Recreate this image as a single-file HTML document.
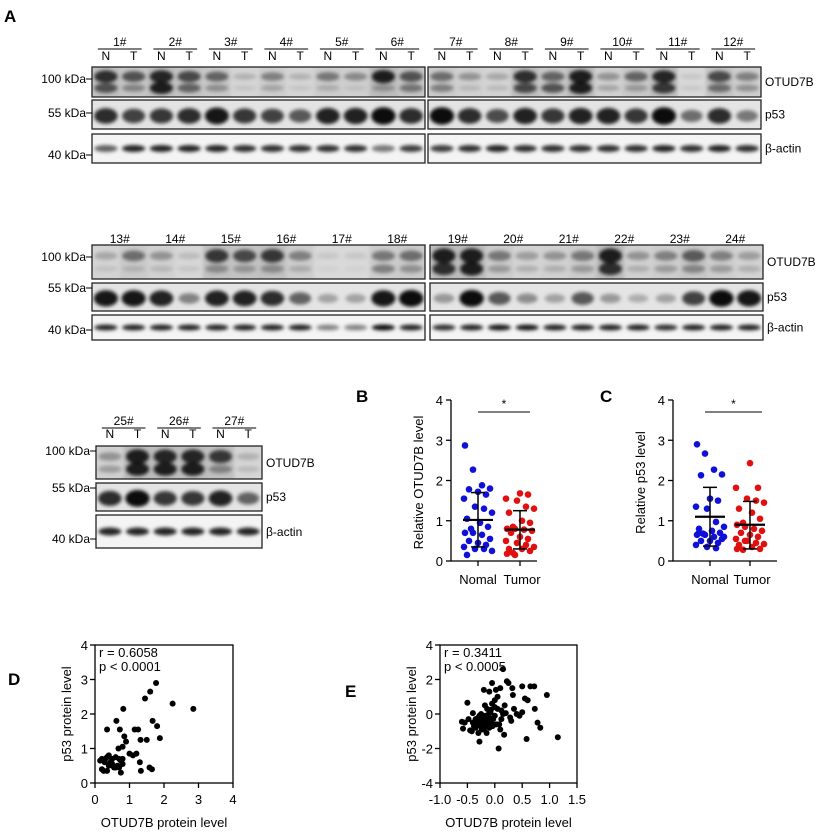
<!DOCTYPE html>
<html><head><meta charset="utf-8"><style>
body{margin:0;background:#fff;}
svg{display:block;font-family:"Liberation Sans",Arial,sans-serif;}
</style></head><body>
<svg id="fig" width="824" height="833" viewBox="0 0 824 833">
<defs>
<filter id="blur" x="-50%" y="-80%" width="200%" height="260%"><feGaussianBlur stdDeviation="1.8"/></filter>
</defs>
<g id="blots"></g>
<g id="scatB"></g>
<g id="scatC"></g>
<g id="corrD"></g>
<g id="corrE"></g>
</svg>
<script>
// ---------- data ----------
const otudUpperR1 = [0.9,0.7,0.95,0.75,0.6,0.2,0.45,0.2,0.5,0.4,1,0.7, 0.55,0.35,0.25,0.9,0.6,1,0.35,0.6,0.95,0.1,0.75,0.45];
const otudLowerR1 = [0.7,0.4,1,0.6,0.35,0.1,0.25,0.1,0.2,0.1,0.3,0.5, 0.45,0.15,0.15,0.75,0.7,1,0.25,0.3,0.85,0.1,0.55,0.35];
const p53R1 = [0.85,0.75,0.8,0.85,0.95,0.8,0.75,0.65,0.9,0.9,1,0.85, 1,0.85,0.7,0.9,0.8,0.9,0.9,0.8,1,0.55,0.85,0.5];
const actinR1 = [0.6,0.85,0.85,0.85,0.85,0.8,0.8,0.8,0.8,0.8,0.5,0.75, 0.75,0.8,0.85,0.8,0.8,0.8,0.8,0.8,0.85,0.8,0.85,0.8];
const otudUpperR2 = [0.25,0.55,0.35,0.15,0.85,0.75,0.85,0.45,0.1,0.1,0.5,0.55, 1,1,0.5,0.3,0.35,0.5,1,0.35,0.45,0.65,0.45,0.3];
const otudLowerR2 = [0.1,0.15,0.15,0.1,0.35,0.3,0.35,0.2,0.05,0.05,0.45,0.35, 0.9,1,0.3,0.2,0.2,0.3,0.9,0.2,0.3,0.4,0.3,0.2];
const p53R2 = [0.95,0.95,0.9,0.45,0.9,0.9,0.85,0.6,0.3,0.3,0.95,1, 0.35,1,0.65,0.4,0.3,0.65,0.35,0.25,0.3,0.75,1,0.95];
const actinR2 = [0.85,0.85,0.85,0.85,0.85,0.85,0.85,0.85,0.45,0.45,0.95,0.85, 0.8,0.85,0.9,0.9,0.85,0.85,0.85,0.85,0.8,0.85,0.85,0.85];
const otudUpperR3 = [0.35,1,0.95,0.95,0.85,0.2];
const otudLowerR3 = [0.3,1,1,1,0.4,0.15];
const p53R3 = [0.85,1,0.8,0.8,0.9,0.6];
const actinR3 = [0.85,0.85,0.85,0.85,0.85,0.85];

const bNormal = [2.87,2.27,1.88,1.8,1.78,1.72,1.65,1.55,1.35,1.3,1.2,1.05,0.95,0.85,0.8,0.7,0.7,0.65,0.55,0.5,0.45,0.4,0.35,0.3,0.3,0.25,0.15];
const bTumor = [1.68,1.65,1.55,1.5,1.35,1.3,1.2,1.0,0.95,0.85,0.8,0.8,0.78,0.75,0.7,0.6,0.55,0.5,0.45,0.4,0.35,0.3,0.3,0.25,0.2,0.18,0.15];
const bStats = {nMean:1.02,nLo:0.35,nHi:1.7,tMean:0.78,tLo:0.3,tHi:1.25};
const cNormal = [2.9,2.67,2.27,2.15,2.13,1.55,1.5,1.35,1.3,0.97,0.85,0.8,0.75,0.7,0.68,0.65,0.65,0.6,0.55,0.5,0.5,0.45,0.4,0.35,0.32,0.6,0.7];
const cTumor = [2.43,1.82,1.82,1.55,1.5,1.45,1.3,1.2,1.05,0.95,0.9,0.85,0.8,0.75,0.7,0.65,0.6,0.55,0.5,0.45,0.42,0.4,0.35,0.3,0.28,0.3,0.5];
const cStats = {nMean:1.1,nLo:0.37,nHi:1.83,tMean:0.9,tLo:0.3,tHi:1.48};

const dX = [0.15,0.2,0.25,0.3,0.35,0.35,0.4,0.4,0.45,0.5,0.55,0.6,0.6,0.65,0.7,0.7,0.75,0.75,0.8,0.8,0.35,0.62,0.72,0.68,0.8,0.82,0.85,0.9,1.0,1.1,1.2,1.15,1.25,1.3,1.32,1.33,1.45,1.5,1.58,1.6,1.65,1.67,1.77,1.8,1.88,2.25,2.85,0.2,0.28,0.5];
const dY = [0.65,0.4,0.35,0.7,0.75,0.35,0.8,0.5,0.6,0.7,0.45,0.75,0.45,0.5,0.7,0.45,0.3,0.65,0.55,0.7,1.55,1.8,1.55,1.0,1.05,2.15,1.35,1.2,0.85,0.8,0.85,1.55,1.55,0.6,1.25,0.35,2.45,1.25,0.45,2.65,0.4,1.8,2.9,1.65,1.3,2.3,2.15,0.7,0.6,0.55];
const eX = [-0.6,-0.58,-0.5,-0.45,-0.4,-0.4,-0.35,-0.35,-0.32,-0.3,-0.3,-0.28,-0.27,-0.25,-0.25,-0.22,-0.2,-0.2,-0.2,-0.18,-0.17,-0.15,-0.15,-0.14,-0.12,-0.1,-0.1,-0.1,-0.08,-0.06,-0.05,-0.05,-0.03,0.0,0.0,0.02,0.03,0.05,0.07,0.08,0.1,0.12,0.15,0.15,0.17,0.18,0.22,0.25,0.28,0.3,0.32,0.33,0.35,0.4,0.45,0.5,0.5,0.55,0.58,0.6,0.65,0.72,0.73,0.78,0.83,0.95,1.15,-0.55,-0.48,-0.38,-0.33,-0.3,-0.26,-0.24,-0.2,-0.18,-0.16,-0.13,-0.11,-0.08,-0.07,-0.04,0.0,0.05,0.1,0.2,-0.42,-0.28,0.12];
const eY = [-0.45,-0.85,0.65,-0.95,-0.5,0.05,-0.3,-0.8,-0.6,-1.1,-0.2,-1.6,-0.4,-0.7,0.0,-0.5,-0.9,-0.3,1.4,0.5,-0.1,-0.6,-1.1,0.3,-0.4,-0.2,1.3,-0.8,0.1,-0.5,1.8,0.6,-0.3,0.8,-0.1,1.4,-0.6,0.3,-2.0,-0.6,1.5,0.2,0.0,2.6,-1.2,0.5,1.9,1.8,-0.2,-0.4,1.5,1.1,0.3,0.0,-0.1,1.6,0.1,0.9,-1.45,0.8,1.6,1.6,0.3,-0.5,-0.8,1.1,-1.35,-0.5,-0.3,-0.7,-0.45,-0.55,-0.25,-0.9,-0.6,-0.35,-0.15,-0.7,0.0,-0.45,0.25,-0.7,0.4,1.0,-0.9,0.05,-1.0,-0.1,-0.3];

// ---------- helpers ----------
const NS = "http://www.w3.org/2000/svg";
function mk(parent, tag, attrs, text){
  const e = document.createElementNS(NS, tag);
  for (const k in attrs) e.setAttribute(k, attrs[k]);
  if (text !== undefined) e.textContent = text;
  parent.appendChild(e);
  return e;
}
function txt(parent, x, y, s, size, anchor, name, extra){
  const t = mk(parent, "text", Object.assign({x:x, y:y, "font-size":size, "text-anchor":anchor||"start", fill:"#000"}, extra||{}), s);
  
  
  return t;
}

// ---------- blots ----------
const blots = document.getElementById("blots");
txt(blots, 4, 22, "A", 17, "start", "panel-label-a", {"font-weight":"bold"});
let clipId = 0;
function strip(x0, x1, y0, y1, lanes, upper, lower, kind, name){
  const n = upper.length, w = (x1 - x0) / n;
  const g = mk(blots, "g", {});
  
  
  const id = "c" + (clipId++);
  const cp = mk(g, "clipPath", {id:id});
  mk(cp, "rect", {x:x0, y:y0, width:x1-x0, height:y1-y0});
  mk(g, "rect", {x:x0, y:y0, width:x1-x0, height:y1-y0, fill: kind==="actin" ? "#f4f4f4" : (kind==="p53" ? "#e4e4e4" : "#dcdcdc")});
  const inner = mk(g, "g", {"clip-path":"url(#"+id+")", filter:"url(#blur)"});
  const h = y1 - y0;
  for (let i = 0; i < n; i++){
    const cx = x0 + w*(i+0.5);
    if (kind === "otud"){
      const bg = 0.15*upper[i];
      mk(inner, "rect", {x:cx-w/2, y:y0-3, width:w, height:h+6, fill:"#000", opacity:bg});
      mk(inner, "ellipse", {cx:cx, cy:y0+h*0.32, rx:w*0.42, ry:h*(0.08+0.14*upper[i]), fill:"#000", opacity:0.85*upper[i]});
      mk(inner, "ellipse", {cx:cx, cy:y0+h*0.7, rx:w*0.42, ry:h*(0.07+0.13*lower[i]), fill:"#000", opacity:0.85*lower[i]});
    } else if (kind === "p53"){
      mk(inner, "ellipse", {cx:cx, cy:y0+h*0.55, rx:w*(0.34+0.1*upper[i]), ry:h*(0.1+0.2*upper[i]), fill:"#000", opacity:0.95*upper[i]});
    } else {
      mk(inner, "ellipse", {cx:cx, cy:y0+h*0.5, rx:w*0.42, ry:h*0.12, fill:"#000", opacity:upper[i]});
    }
  }
  mk(g, "rect", {x:x0, y:y0, width:x1-x0, height:y1-y0, fill:"none", stroke:"#222", "stroke-width":1.3});
}
function headers(x0, x1, nGroups, startNum, yGroup, yNT){
  const w = (x1 - x0) / (nGroups*2);
  for (let k = 0; k < nGroups; k++){
    const cN = x0 + w*(2*k+0.5), cT = x0 + w*(2*k+1.5), c = (cN + cT)/2;
    txt(blots, c, yGroup, (startNum+k) + "#", 12, "middle", "sample-label-" + (startNum+k));
    const l = mk(blots, "line", {x1:cN-8, x2:cT+8, y1:yGroup+3, y2:yGroup+3, stroke:"#000", "stroke-width":1});
    
    
    txt(blots, cN, yNT, "N", 12, "middle", "normal-lane-label");
    txt(blots, cT, yNT, "T", 12, "middle", "tumor-lane-label");
  }
}
function marker(y, s, xEnd){
  txt(blots, xEnd-6, y+4, s, 12, "end", "marker-" + s.replace(" ","-").toLowerCase());
  const l = mk(blots, "line", {x1:xEnd-6, x2:xEnd, y1:y, y2:y, stroke:"#000", "stroke-width":1});
  
  
}
function rowSet(panels, ys, uArr, lArr, pArr, aArr, labelX){
  panels.forEach((p, pi) => {
    const sl = a => a.slice(pi*12, pi*12+12);
    strip(p[0], p[1], ys[0][0], ys[0][1], 12, sl(uArr), sl(lArr), "otud", "otud7b-blot");
    strip(p[0], p[1], ys[1][0], ys[1][1], 12, sl(pArr), null, "p53", "p53-blot");
    strip(p[0], p[1], ys[2][0], ys[2][1], 12, sl(aArr), null, "actin", "actin-blot");
  });
  txt(blots, labelX, (ys[0][0]+ys[0][1])/2+4, "OTUD7B", 12, "start", "otud7b-label");
  txt(blots, labelX, (ys[1][0]+ys[1][1])/2+4, "p53", 12, "start", "p53-label");
  txt(blots, labelX, (ys[2][0]+ys[2][1])/2+4, "β-actin", 12, "start", "actin-label");
}
// Row 1
headers(92, 425, 6, 1, 46, 60); headers(428, 761, 6, 7, 46, 60);
rowSet([[92,425],[428,761]], [[67,97],[100,129],[134,163]], otudUpperR1, otudLowerR1, p53R1, actinR1, 765);
marker(79, "100 kDa", 92); marker(113, "55 kDa", 92); marker(155, "40 kDa", 92);
// Row 2
headers(92, 425, 6, 13, 243, 256); headers(430, 763, 6, 19, 243, 256);
rowSet([[92,425],[430,763]], [[245,279],[283,311],[315,340]], otudUpperR2, otudLowerR2, p53R2, actinR2, 767);
marker(257, "100 kDa", 92); marker(288, "55 kDa", 92); marker(330, "40 kDa", 92);
// Row 3
headers(96, 262, 3, 25, 425, 438);
(function(){
  const x0=96, x1=262, ys=[[446,479],[483,511],[515,548]];
  strip(x0,x1,ys[0][0],ys[0][1],6,otudUpperR3,otudLowerR3,"otud","otud7b-blot");
  strip(x0,x1,ys[1][0],ys[1][1],6,p53R3,null,"p53","p53-blot");
  strip(x0,x1,ys[2][0],ys[2][1],6,actinR3,null,"actin","actin-blot");
  txt(blots, 266, 467, "OTUD7B", 12, "start", "otud7b-label");
  txt(blots, 266, 501, "p53", 12, "start", "p53-label");
  txt(blots, 266, 536, "β-actin", 12, "start", "actin-label");
  marker(451, "100 kDa", 96); marker(488, "55 kDa", 96); marker(539, "40 kDa", 96);
})();

// ---------- dot plots B, C ----------
function dotPlot(gid, letter, letterX, axX, axEnd, nX, tX, sigX0, sigX1, ylab, nVals, tVals, st){
  const g = document.getElementById(gid);
  const y0 = 561, y1 = 400;
  const ys = v => y0 - (v/4)*(y0-y1);
  txt(g, letterX, 402, letter, 17, "start", "panel-label-" + letter.toLowerCase(), {"font-weight":"bold"});
  const ax = mk(g, "path", {d:`M${axX},${y1} V${y0} H${axEnd}`, fill:"none", stroke:"#000", "stroke-width":1.3});
  
  
  [0,1,2,3,4].forEach(t => {
    mk(g, "line", {x1:axX-5, x2:axX, y1:ys(t), y2:ys(t), stroke:"#000", "stroke-width":1.3});
    txt(g, axX-8, ys(t)+5, String(t), 13, "end", "y-tick-label");
  });
  [nX, tX].forEach(x => mk(g, "line", {x1:x, x2:x, y1:y0, y2:y0+5, stroke:"#000", "stroke-width":1.3}));
  txt(g, nX, 584, "Nomal", 13, "middle", "x-label-normal");
  txt(g, tX+2, 584, "Tumor", 13, "middle", "x-label-tumor");
  txt(g, 0, 0, ylab, 13, "middle", "y-axis-title", {transform:`translate(${axX-28},${(y0+y1)/2+2}) rotate(-90)`});
  mk(g, "line", {x1:sigX0, x2:sigX1, y1:412, y2:412, stroke:"#000", "stroke-width":1});
  txt(g, (sigX0+sigX1)/2, 408, "*", 12, "middle", "significance-star");
  const jit = [-13,-5,4,12,-9,0,8,-14,-3,6,14,-11,2,10,-7];
  nVals.forEach((v,i) => {
    const c = mk(g, "circle", {cx:nX + jit[i%jit.length], cy:ys(v), r:3.3, fill:"#1010d8"});
    
    
  });
  tVals.forEach((v,i) => {
    const c = mk(g, "circle", {cx:tX + jit[(i+5)%jit.length], cy:ys(v), r:3.3, fill:"#e01010"});
    
    
  });
  [[nX, st.nMean, st.nLo, st.nHi],[tX, st.tMean, st.tLo, st.tHi]].forEach(a => {
    const [x,m,lo,hi] = a;
    mk(g, "line", {x1:x-15, x2:x+15, y1:ys(m), y2:ys(m), stroke:"#000", "stroke-width":2.2});
    mk(g, "line", {x1:x, x2:x, y1:ys(lo), y2:ys(hi), stroke:"#000", "stroke-width":1.5});
    mk(g, "line", {x1:x-7, x2:x+7, y1:ys(lo), y2:ys(lo), stroke:"#000", "stroke-width":1.5});
    mk(g, "line", {x1:x-7, x2:x+7, y1:ys(hi), y2:ys(hi), stroke:"#000", "stroke-width":1.5});
  });
}
dotPlot("scatB","B",356,451,537,478,520,478,530,"Relative OTUD7B level",bNormal,bTumor,bStats);
dotPlot("scatC","C",600,673,777,710,750,705,762,"Relative p53 level",cNormal,cTumor,cStats);

// ---------- correlation D, E ----------
function corr(gid, letter, letterX, letterY, x0, x1, xmin, xmax, xticks, ymin, ymax, yticks, xs, ysArr, r, p){
  const g = document.getElementById(gid);
  const yTop = 645, yBot = 783;
  const sx = v => x0 + (v - xmin)/(xmax - xmin)*(x1 - x0);
  const sy = v => yBot - (v - ymin)/(ymax - ymin)*(yBot - yTop);
  txt(g, letterX, letterY, letter, 17, "start", "panel-label-" + letter.toLowerCase(), {"font-weight":"bold"});
  const fr = mk(g, "rect", {x:x0, y:yTop, width:x1-x0, height:yBot-yTop, fill:"none", stroke:"#000", "stroke-width":1.3});
  
  
  yticks.forEach(t => {
    mk(g, "line", {x1:x0-5, x2:x0, y1:sy(t), y2:sy(t), stroke:"#000", "stroke-width":1.3});
    txt(g, x0-7, sy(t)+5, String(t), 13, "end", "y-tick-label");
  });
  xticks.forEach(t => {
    mk(g, "line", {x1:sx(t), x2:sx(t), y1:yBot, y2:yBot+5, stroke:"#000", "stroke-width":1.3});
    txt(g, sx(t), 804, xmin < 0 ? t.toFixed(1) : String(t), 13, "middle", "x-tick-label");
  });
  txt(g, (x0+x1)/2, 827, "OTUD7B protein level", 13, "middle", "x-axis-title");
  txt(g, 0, 0, "p53 protein level", 13, "middle", "y-axis-title", {transform:`translate(${x0-24},${(yTop+yBot)/2}) rotate(-90)`});
  xs.forEach((v,i) => {
    const c = mk(g, "circle", {cx:sx(v), cy:sy(ysArr[i]), r:3, fill:"#000"});
    
    
  });
  txt(g, x0+4, 657, r, 13, "start", "r-value");
  txt(g, x0+4, 671, p, 13, "start", "p-value");
}
corr("corrD","D",8,685,95,233,0,4,[0,1,2,3,4],0,4,[0,1,2,3,4],dX,dY,"r = 0.6058","p < 0.0001");
corr("corrE","E",345,697,440,577,-1,1.5,[-1,-0.5,0,0.5,1,1.5],-4,4,[-4,-2,0,2,4],eX,eY,"r = 0.3411","p < 0.0005");
</script>
</body></html>
